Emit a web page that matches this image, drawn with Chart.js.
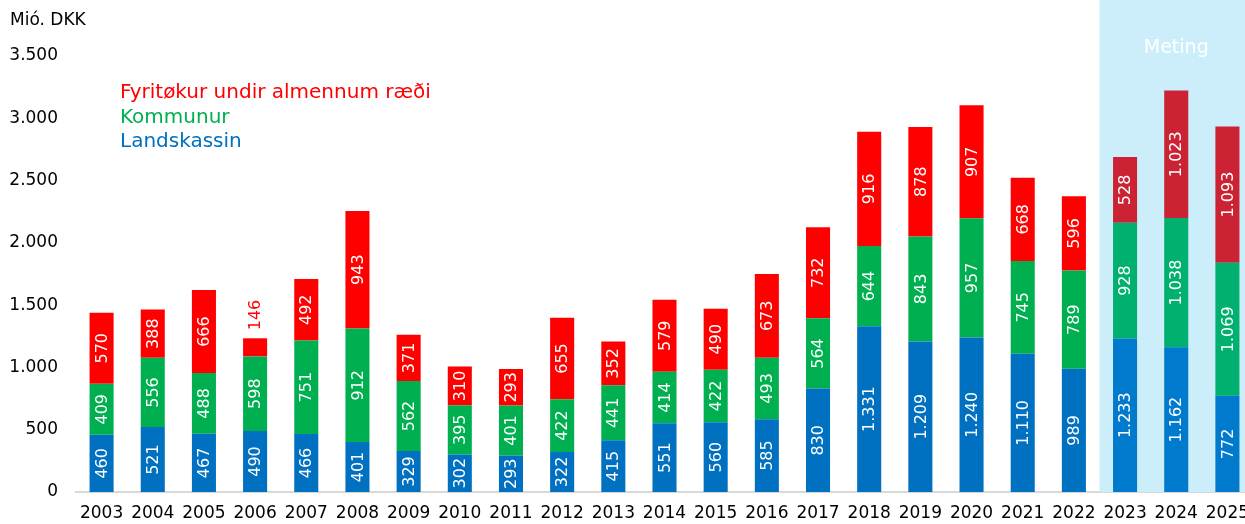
<!DOCTYPE html>
<html>
<head>
<meta charset="utf-8">
<script src="https://cdn.jsdelivr.net/npm/chart.js@4/dist/chart.umd.min.js"></script>
<style>
  html, body { margin: 0; padding: 0; background: #fff; overflow: hidden; }
</style>
</head>
<body>
<canvas id="c" width="1253" height="524"></canvas>
<script>
const years = ['2003','2004','2005','2006','2007','2008','2009','2010','2011','2012','2013','2014','2015','2016','2017','2018','2019','2020','2021','2022','2023','2024','2025'];
const landskassin = [460,521,467,490,466,401,329,302,293,322,415,551,560,585,830,1331,1209,1240,1110,989,1233,1162,772];
const kommunur = [409,556,488,598,751,912,562,395,401,422,441,414,422,493,564,644,843,957,745,789,928,1038,1069];
const fyritokur = [570,388,666,146,492,943,371,310,293,655,352,579,490,673,732,916,878,907,668,596,528,1023,1093];
const firstForecast = 20; // 2023 onwards is "Meting"

const FONT = '"DejaVu Sans", Verdana, sans-serif';

function colours(normal, forecast) {
  return years.map((y, i) => i >= firstForecast ? forecast : normal);
}

function fmt(v) {
  return v.toString().replace(/\B(?=(\d{3})+(?!\d))/g, '.');
}

// shaded forecast area + "Meting" label
const forecastBg = {
  id: 'forecastBg',
  beforeDatasetsDraw(chart) {
    const ctx = chart.ctx;
    const x = chart.scales.x;
    const left = (x.getPixelForValue(firstForecast - 1) + x.getPixelForValue(firstForecast)) / 2;
    const bottom = chart.chartArea.bottom;
    ctx.save();
    ctx.fillStyle = '#CCEEFA';
    ctx.fillRect(left, 0, chart.width - left, bottom);
    ctx.fillStyle = '#ffffff';
    ctx.font = '19px ' + FONT;
    ctx.textAlign = 'center';
    ctx.textBaseline = 'middle';
    ctx.fillText('Meting', x.getPixelForValue(21), 48);
    ctx.restore();
  }
};

// rotated value labels and the text legend
const valueLabels = {
  id: 'valueLabels',
  afterDatasetsDraw(chart) {
    const ctx = chart.ctx;
    ctx.save();
    ctx.font = '16px ' + FONT;
    ctx.textBaseline = 'middle';
    chart.data.datasets.forEach((ds, di) => {
      chart.getDatasetMeta(di).data.forEach((bar, i) => {
        const v = ds.data[i];
        const h = bar.base - bar.y;
        ctx.save();
        if (h < 28) {
          ctx.translate(bar.x, bar.y - 8);
          ctx.rotate(-Math.PI / 2);
          ctx.textAlign = 'left';
          ctx.fillStyle = '#FF0000';
        } else {
          ctx.translate(bar.x, (bar.y + bar.base) / 2);
          ctx.rotate(-Math.PI / 2);
          ctx.textAlign = 'center';
          ctx.fillStyle = '#ffffff';
        }
        ctx.fillText(fmt(v), 0, 1);
        ctx.restore();
      });
    });

    ctx.textAlign = 'left';
    ctx.fillStyle = '#000';
    ctx.font = '17px ' + FONT;
    ctx.fillText('Mió. DKK', 10, 21);
    ctx.font = '20px ' + FONT;
    const leg = [['Fyritøkur undir almennum ræði', '#FF0000'], ['Kommunur', '#00B050'], ['Landskassin', '#0070C0']];
    leg.forEach((l, i) => {
      ctx.fillStyle = l[1];
      ctx.fillText(l[0], 120, 93 + i * 24.5);
    });
    ctx.restore();
  }
};

new Chart(document.getElementById('c'), {
  type: 'bar',
  data: {
    labels: years,
    datasets: [
      { label: 'Landskassin', data: landskassin, backgroundColor: colours('#0070C0', '#007ACC') },
      { label: 'Kommunur', data: kommunur, backgroundColor: colours('#00B050', '#00B06E') },
      { label: 'Fyritøkur undir almennum ræði', data: fyritokur, backgroundColor: colours('#FF0000', '#CB2333') }
    ]
  },
  options: {
    responsive: false,
    animation: false,
    barPercentage: 0.94,
    categoryPercentage: 0.5,
    layout: { padding: { top: 56, left: 10, right: 0, bottom: 1 } },
    plugins: { legend: { display: false }, tooltip: { enabled: false } },
    scales: {
      x: {
        stacked: true,
        grid: { display: false, drawTicks: false },
        border: { display: true, color: '#D9D9D9', width: 2 },
        ticks: { color: '#000', font: { family: FONT, size: 17 }, padding: 11, maxRotation: 0, autoSkip: false },
        afterFit: s => { s.height = 31; s.paddingLeft = 0; s.paddingRight = 0; }
      },
      y: {
        stacked: true,
        min: 0,
        max: 3500,
        grid: { display: false, drawTicks: false },
        border: { display: false },
        ticks: { stepSize: 500, color: '#000', font: { family: FONT, size: 17 }, padding: 18, callback: v => fmt(v) },
        afterFit: s => { s.width = 66; }
      }
    }
  },
  plugins: [forecastBg, valueLabels]
});
</script>
</body>
</html>
